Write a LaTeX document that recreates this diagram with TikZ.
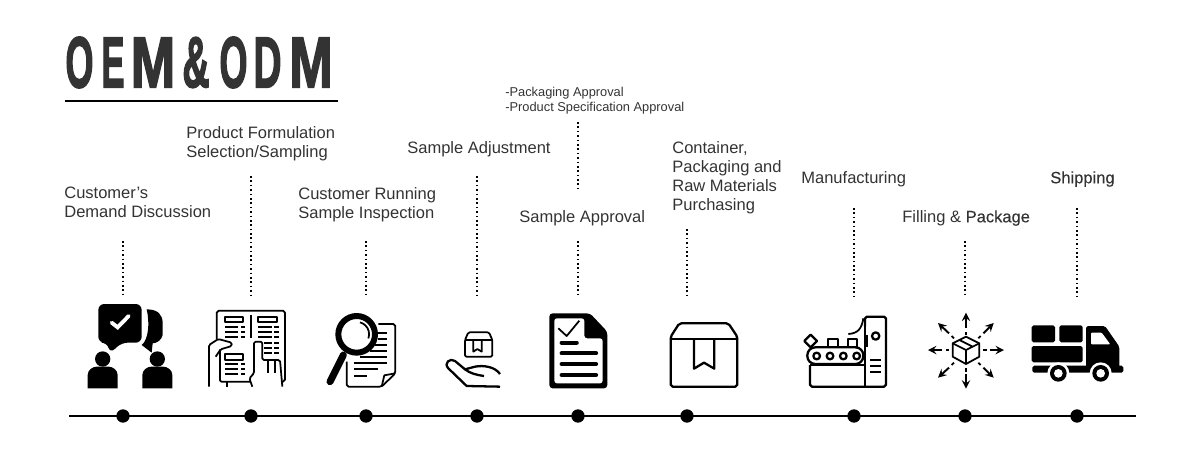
\documentclass[tikz,border=0pt]{standalone}
\usepackage{fontspec}
\setmainfont{Liberation Sans}
\newfontfamily\darkfont[FakeBold=0.25]{Liberation Sans}
\newfontfamily\titlefont[FakeBold=2.6]{Liberation Sans Bold}
\definecolor{inkgray}{HTML}{333333}
\tikzset{
  steplabel/.style={anchor=north west,inner sep=0pt,align=left,text=inkgray,font=\fontsize{9.4}{10.8}\selectfont},
  smalllabel/.style={anchor=north west,inner sep=0pt,align=left,text=inkgray,font=\fontsize{7.3}{8.6}\selectfont},
  titleletter/.style={inner sep=0pt,text=inkgray,font=\fontsize{41}{41}\titlefont},
  tickdot/.style={circle,fill=black,inner sep=0pt,minimum size=7.6pt},
  tickline/.style={line width=0.9pt,dash pattern=on 0.9pt off 1.6pt},
  icon/.style={line width=1.3pt,line join=round},
  thinicon/.style={line width=1pt,line join=round},
  arrowicon/.style={line width=1.1pt,-stealth},
  zoomone/.style={shift={(50,290)},scale=1/3},
  zoomtwo/.style={shift={(420,290)},scale=1/3},
  zoomthree/.style={shift={(780,290)},scale=1/3},
}
\begin{document}
\begin{tikzpicture}[x=0.02cm,y=-0.02cm]
  \useasboundingbox (0,0) rectangle (1200,450);

  % title
  \foreach \ch/\cx/\sx in {O/79.5/0.5,E/113/0.48,M/153/0.74,\&/196/0.52,O/233.5/0.5,D/267.5/0.54,M/311/0.72}
    \node[titleletter,xscale=\sx] at (\cx,62.5) {\ch};
  \coordinate (ruleleft) at (65,101);
  \coordinate (ruleright) at (338,101);
  \draw[line width=1pt] (ruleleft) -- (ruleright);

  % time line
  \coordinate (lineleft) at (69,416);
  \coordinate (lineright) at (1136,416);
  \draw[line width=1.5pt] (lineleft) -- (lineright);
  \foreach \pname/\px/\ptop in {a/123/241,b/251/176,c/366/241,d/477/176,e/578/241,f/687/229,g/854/208,h/965/241,i/1077/208} {
    \node[tickdot] (dot\pname) at (\px,416) {};
    \coordinate (top\pname) at (\px,\ptop);
    \coordinate (end\pname) at (\px,298);
    \draw[tickline] (top\pname) -- (end\pname);
  }
  \coordinate (notetop) at (578,122);
  \coordinate (noteend) at (578,190);
  \draw[tickline] (notetop) -- (noteend);

  % labels
  \node[steplabel] (lcustomer) at (64,187) {Customer's\\Demand Discussion};
  \node[steplabel] (lformula) at (186,126) {Product Formulation\\Selection/Sampling};
  \node[steplabel] (lrunning) at (298,187) {Customer Running\\Sample Inspection};
  \node[steplabel] (ladjust) at (407,141) {Sample Adjustment};
  \node[smalllabel] (lnote) at (505,87) {-Packaging Approval\\-Product Specification Approval};
  \node[steplabel] (lapproval) at (519,210) {Sample Approval};
  \node[steplabel] (lcontainer) at (672,141) {Container,\\Packaging and\\Raw Materials\\Purchasing};
  \node[steplabel] (lmanufact) at (801,171) {Manufacturing};
  \node[steplabel] (lfilling) at (902,210) {Filling \& {\darkfont Package}};
  \node[steplabel] (lshipping) at (1050,171) {\darkfont Shipping};

  % chat icon
  \begin{scope}[zoomone]
    \fill[rounded corners=3.4pt] (145,42) -- (275,42) -- (275,158) -- (215,158) -- (180,190) -- (172,158) -- (145,158) -- cycle;
    \fill (290,58) .. controls (325,58) and (338,75) .. (338,100) -- (338,135) .. controls (335,150) and (320,160) .. (308,160) -- (305,188) -- (275,165) .. controls (295,150) and (300,100) .. (290,58);
    \draw[white,line width=2.2pt,line cap=round] (185,98) -- (203,112) -- (236,78);
    \foreach \hx in {158,322} {
      \fill (\hx,207) circle (23);
      \fill (\hx-45,295) -- (\hx-45,255) .. controls (\hx-45,240) and (\hx-30,230) .. (\hx-18,230) -- (\hx+18,230) .. controls (\hx+30,230) and (\hx+45,240) .. (\hx+45,255) -- (\hx+45,295) -- cycle;
    }
  \end{scope}

  % leaflet icon
  \begin{scope}[zoomone]
    \draw[thinicon,rounded corners=1.1pt] (500,148) -- (500,62) -- (705,62) -- (705,275) -- (690,275);
    \draw[thinicon,rounded corners=0.8pt] (477,290) -- (477,165) -- (505,147) -- (545,158) -- (545,168) -- (512,178) -- (497,200);
    \draw[thinicon,rounded corners=0.8pt] (510,178) -- (510,275) -- (600,275);
    \draw[thinicon] (530,275) -- (530,290);
    \draw[line width=1.1pt] (603,75) -- (603,145);
    \foreach \rx/\ry in {525/80,625/80,525/192}
      \draw[thinicon] (\rx,\ry) rectangle ++(55,17);
    \foreach \ry in {110,125,140} {
      \draw[thinicon] (525,\ry) -- (565,\ry);
      \draw[thinicon] (573,\ry) -- (585,\ry);
      \draw[thinicon] (625,\ry) -- (665,\ry);
      \draw[thinicon] (673,\ry) -- (687,\ry);
    }
    \foreach \ry in {222,238,253} {
      \draw[thinicon] (525,\ry) -- (565,\ry);
      \draw[thinicon] (573,\ry) -- (585,\ry);
    }
    \foreach \ry in {158,173,188} {
      \draw[thinicon] (642,\ry) -- (665,\ry);
      \draw[thinicon] (673,\ry) -- (687,\ry);
    }
    \draw[thinicon,fill=white,rounded corners=0.9pt] (607,290) -- (598,265) -- (612,250) -- (612,155) -- (637,155) -- (637,210) -- (690,210) -- (697,290);
    \draw[thinicon] (655,212) -- (655,250) (675,212) -- (675,250);
  \end{scope}

  % magnifier icon
  \begin{scope}[zoomone]
    \draw[thinicon,rounded corners=1.1pt] (985,102) -- (1036,102) -- (1036,250) -- (995,290) -- (890,290) -- (890,215);
    \draw[thinicon] (1036,250) -- (1003,256) -- (995,290);
    \foreach \lx/\ly/\ex in {985/130/1012,985/148/1012,975/165/1012,960/182/1012,930/200/1012,912/218/1012,912/237/985,912/257/950}
      \draw[line width=1pt] (\lx,\ly) -- (\ex,\ly);
    \draw[line width=3.4pt,fill=white] (920,133) circle (55);
    \draw[line width=1pt] (930,97) arc (-75:20:37);
    \draw[line width=4pt,line cap=round] (880,195) -- (840,275);
  \end{scope}

  % hand with box icon
  \begin{scope}[zoomtwo]
    \draw[thinicon,rounded corners=0.8pt] (135,150) -- (145,127) -- (207,127) -- (217,150) -- (217,200) -- (135,200) -- cycle;
    \draw[thinicon] (135,150) -- (217,150);
    \draw[thinicon] (160,150) -- (160,185) -- (172,177) -- (185,185) -- (185,150);
    \draw[icon] (240,252) .. controls (225,230) and (190,225) .. (165,230) -- (135,238) -- (105,213) .. controls (90,202) and (70,220) .. (85,235) -- (140,288) -- (240,290);
    \draw[icon] (135,238) .. controls (150,250) and (170,255) .. (192,258);
  \end{scope}

  % approved sheet icon
  \begin{scope}[zoomtwo]
    \fill[rounded corners=1.9pt] (388,70) -- (510,70) -- (562,125) -- (562,295) -- (388,295) -- cycle;
    \fill[white,rounded corners=1.5pt] (403,85) -- (493,85) -- (493,145) -- (548,145) -- (548,280) -- (403,280) -- cycle;
    \draw[thinicon] (415,115) -- (440,138) -- (478,92);
    \draw[line width=2.4pt,line cap=round] (425,158) -- (470,158);
    \foreach \ly in {190,222,255}
      \draw[line width=2.4pt,line cap=round] (425,\ly) -- (528,\ly);
  \end{scope}

  % carton icon
  \begin{scope}[zoomtwo]
    \draw[icon,rounded corners=1.1pt] (752,140) -- (778,100) -- (925,100) -- (952,140) -- (952,290) -- (752,290) -- cycle;
    \draw[icon] (752,148) -- (952,148);
    \draw[icon] (822,148) -- (822,236) -- (852,218) -- (883,236) -- (883,148);
  \end{scope}

  % factory icon
  \begin{scope}[zoomthree]
    \draw[icon,rounded corners=1.1pt] (255,110) -- (255,80) -- (318,80) -- (318,290) -- (90,290) -- (90,225);
    \draw[icon] (255,108) -- (255,290) (90,225) -- (255,225);
    \draw[icon] (287,138) circle (11);
    \foreach \ly in {210,228,247}
      \draw[thinicon] (270,\ly) -- (302,\ly);
    \draw[icon,fill=white,rounded corners=4.5pt] (82,172) rectangle (250,222);
    \foreach \wx in {110,150,190,230}
      \draw[icon] (\wx,198) circle (10);
    \draw[icon] (145,172) -- (145,148) -- (175,148) -- (175,172);
    \draw[icon] (205,172) -- (205,148) -- (232,148) -- (232,172);
    \draw[icon] (92,134) -- (111,153) -- (92,172) -- (73,153) -- cycle;
    \draw[thinicon] (205,132) .. controls (235,130) and (245,115) .. (250,85);
    \draw[thinicon] (262,135) -- (262,172);
  \end{scope}

  % distribution icon
  \begin{scope}[zoomthree]
    \draw[thinicon] (558,140) -- (598,160) -- (598,200) -- (558,222) -- (518,200) -- (518,160) -- cycle;
    \draw[thinicon] (518,160) -- (558,180) -- (598,160) (558,180) -- (558,222) (538,150) -- (578,170);
    \foreach \ax/\ay/\bx/\by/\cx/\cy/\dx/\dy in {
      558/135/558/125/558/115/558/68,
      558/235/558/245/558/252/558/296,
      610/180/620/180/630/180/672/180,
      507/180/497/180/487/180/444/180,
      595/145/602/138/610/130/641/99,
      522/145/515/138/507/130/474/99,
      595/218/602/225/610/233/641/263,
      522/218/515/225/507/233/474/263} {
      \draw[thinicon] (\ax,\ay) -- (\bx,\by);
      \draw[arrowicon] (\cx,\cy) -- (\dx,\dy);
    }
  \end{scope}

  % truck icon
  \begin{scope}[zoomthree]
    \fill[rounded corners=1pt] (755,106) rectangle (825,157);
    \fill[rounded corners=1pt] (838,106) rectangle (908,157);
    \fill[rounded corners=1pt] (755,168) rectangle (908,217);
    \fill[rounded corners=1pt] (757,227) rectangle (1030,248);
    \fill[rounded corners=1pt] (918,108) -- (975,108) -- (1018,170) -- (1018,235) -- (918,235) -- cycle;
    \fill[white,rounded corners=0.6pt] (933,128) -- (965,128) -- (991,163) -- (933,163) -- cycle;
    \foreach \wx in {835,962} {
      \fill[white] (\wx,250) circle (33);
      \fill (\wx,250) circle (25);
      \fill[white] (\wx,250) circle (13);
    }
  \end{scope}
\end{tikzpicture}
\end{document}
